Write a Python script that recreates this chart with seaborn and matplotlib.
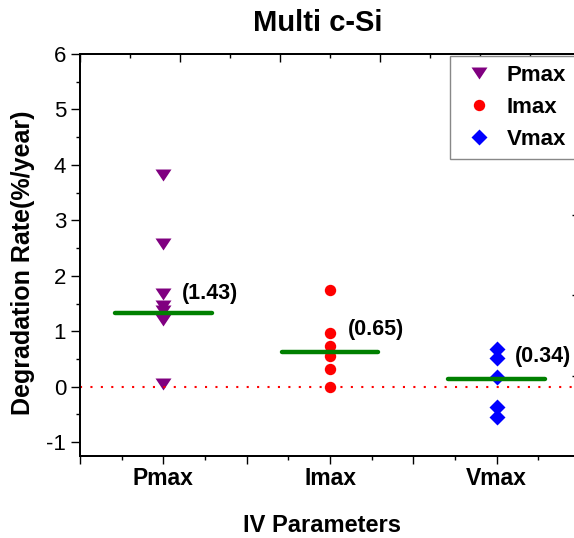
import matplotlib
matplotlib.use("Agg")
import matplotlib.pyplot as plt
from matplotlib.lines import Line2D
from matplotlib.ticker import FixedLocator, MultipleLocator, NullFormatter
import seaborn as sns
import pandas as pd

# ---------------- data ----------------
categories = ["Pmax", "Imax", "Vmax"]
pmax_values = [3.81, 2.58, 1.68, 1.45, 1.37, 1.20, 0.04]
imax_values = [1.74, 0.97, 0.74, 0.56, 0.32, 0.00]
vmax_values = [0.68, 0.52, 0.18, -0.36, -0.55]
mean_lines = [1.32, 0.63, 0.14]
mean_labels = ["(1.43)", "(0.65)", "(0.34)"]
title_text = "Multi c-Si"
x_title = "IV Parameters"
y_title = "Degradation Rate(%/year)"

# ---------------- style ----------------
sns.set_style("ticks")
plt.rcParams["font.family"] = ["Liberation Sans", "DejaVu Sans"]
plt.rcParams["axes.unicode_minus"] = False
for k in ("text.color", "axes.labelcolor", "xtick.color", "ytick.color",
          "axes.edgecolor"):
    plt.rcParams[k] = "black"

colors = ["#800080", "#FF0000", "#0000FF"]
tri_down = [(-1, 0.75), (1, 0.75), (0, -0.75)]
diamond = [(0, 1), (1, 0), (0, -1), (-1, 0)]
markers = [tri_down, "o", diamond]
sizes = [11.5, 8.2, 11.5]

df = pd.concat([
    pd.DataFrame({"param": cat, "value": vals})
    for cat, vals in zip(categories, [pmax_values, imax_values, vmax_values])
], ignore_index=True)

W, H = 574, 538
fig = plt.figure(figsize=(W / 100, H / 100), dpi=100)
ax = fig.add_axes([80 / W, (H - 456) / H, 500 / W, 402 / H])

for cat, col, mk, sz in zip(categories, colors, markers, sizes):
    sns.stripplot(data=df[df["param"] == cat], x="param", y="value",
                  order=categories, color=col, marker=mk, size=sz,
                  jitter=False, linewidth=0, ax=ax, zorder=2)

# zero reference line
ax.axhline(0, color="#FF0000", linewidth=1.5, linestyle=(0, (1, 4)), zorder=3)

# mean lines and labels
for i, m in enumerate(mean_lines):
    ax.plot([i - 0.29, i + 0.29], [m, m], color="#008000", linewidth=3.2,
            solid_capstyle="round", zorder=4)
label_y = [1.68, 1.03, 0.54]
for i, (lab, ty) in enumerate(zip(mean_labels, label_y)):
    ax.text(i + 0.11, ty, lab, ha="left", va="center", fontsize=15.5,
            fontweight="bold", zorder=5)

ax.set_xlim(-0.5, 2.5)
ax.set_ylim(-1.25, 6)

# x ticks: major every half category, labels at categories
xt = [-0.5 + 0.5 * k for k in range(7)]
xl = [categories[k // 2] if k % 2 == 1 else "" for k in range(7)]
ax.xaxis.set_major_locator(FixedLocator(xt))
ax.set_xticklabels(xl, fontsize=16.5, fontweight="bold")
ax.xaxis.set_minor_locator(MultipleLocator(0.25))
ax.tick_params(axis="x", which="major", direction="out", length=6, width=1, pad=2)
ax.tick_params(axis="x", which="minor", direction="out", length=3, width=1)

ax.yaxis.set_major_locator(MultipleLocator(1))
ax.yaxis.set_minor_locator(MultipleLocator(0.5))
ax.tick_params(axis="y", which="major", direction="out", length=6.5, width=1,
               labelsize=16, pad=3.5)
ax.tick_params(axis="y", which="minor", direction="out", length=2.6, width=1)
ax.tick_params(top=False, right=False, which="both")

for sp in ax.spines.values():
    sp.set_linewidth(1.2)
    sp.set_color("black")

ax.set_xlabel(x_title, fontsize=17, fontweight="bold")
ax.xaxis.set_label_coords(0.484, -0.172)
ax.xaxis.label.set_va("center")
ax.set_ylabel(y_title, fontsize=18, fontweight="bold")
ax.yaxis.set_label_coords(-0.114, 0.48)
ax.yaxis.label.set_va("center")

# top axis ticks (independent scale, inward)
axt = ax.twiny()
axt.set_xlim(0, 10)
axt.xaxis.set_major_locator(MultipleLocator(2))
axt.xaxis.set_minor_locator(MultipleLocator(1))
axt.xaxis.set_major_formatter(NullFormatter())
axt.tick_params(axis="x", which="major", direction="in", length=6, width=1, top=True)
axt.tick_params(axis="x", which="minor", direction="in", length=3, width=1, top=True)

# right axis ticks (inward)
axr = ax.twinx()
axr.set_ylim(ax.get_ylim())
axr.yaxis.set_major_locator(FixedLocator([0.2, 1.65, 3.1, 4.55]))
axr.yaxis.set_major_formatter(NullFormatter())
axr.tick_params(axis="y", which="major", direction="in", length=6, width=1, right=True)
axr.tick_params(axis="y", which="minor", right=False)
for a in (axt, axr):
    for sp in a.spines.values():
        sp.set_linewidth(1.2)

fig.text(318 / W, 1 - 23 / H, title_text, ha="center", va="center",
         fontsize=21, fontweight="bold")

handles = [Line2D([0], [0], linestyle="none", marker=mk, color=c,
                  markersize=sz, markeredgewidth=0)
           for mk, c, sz in zip(markers, colors, sizes)]
leg = axr.legend(handles, categories, loc="upper left",
                 bbox_to_anchor=(450 / W, 1 - 56 / H),
                 bbox_transform=fig.transFigure, borderaxespad=0,
                 borderpad=0.4, handlelength=1.8, handletextpad=0.35,
                 labelspacing=0.5, numpoints=1, fancybox=False,
                 prop={"size": 16, "weight": "bold"}, framealpha=1)
leg.get_frame().set_edgecolor("#888888")
leg.get_frame().set_linewidth(1.0)

fig.savefig("out.png", dpi=100)
